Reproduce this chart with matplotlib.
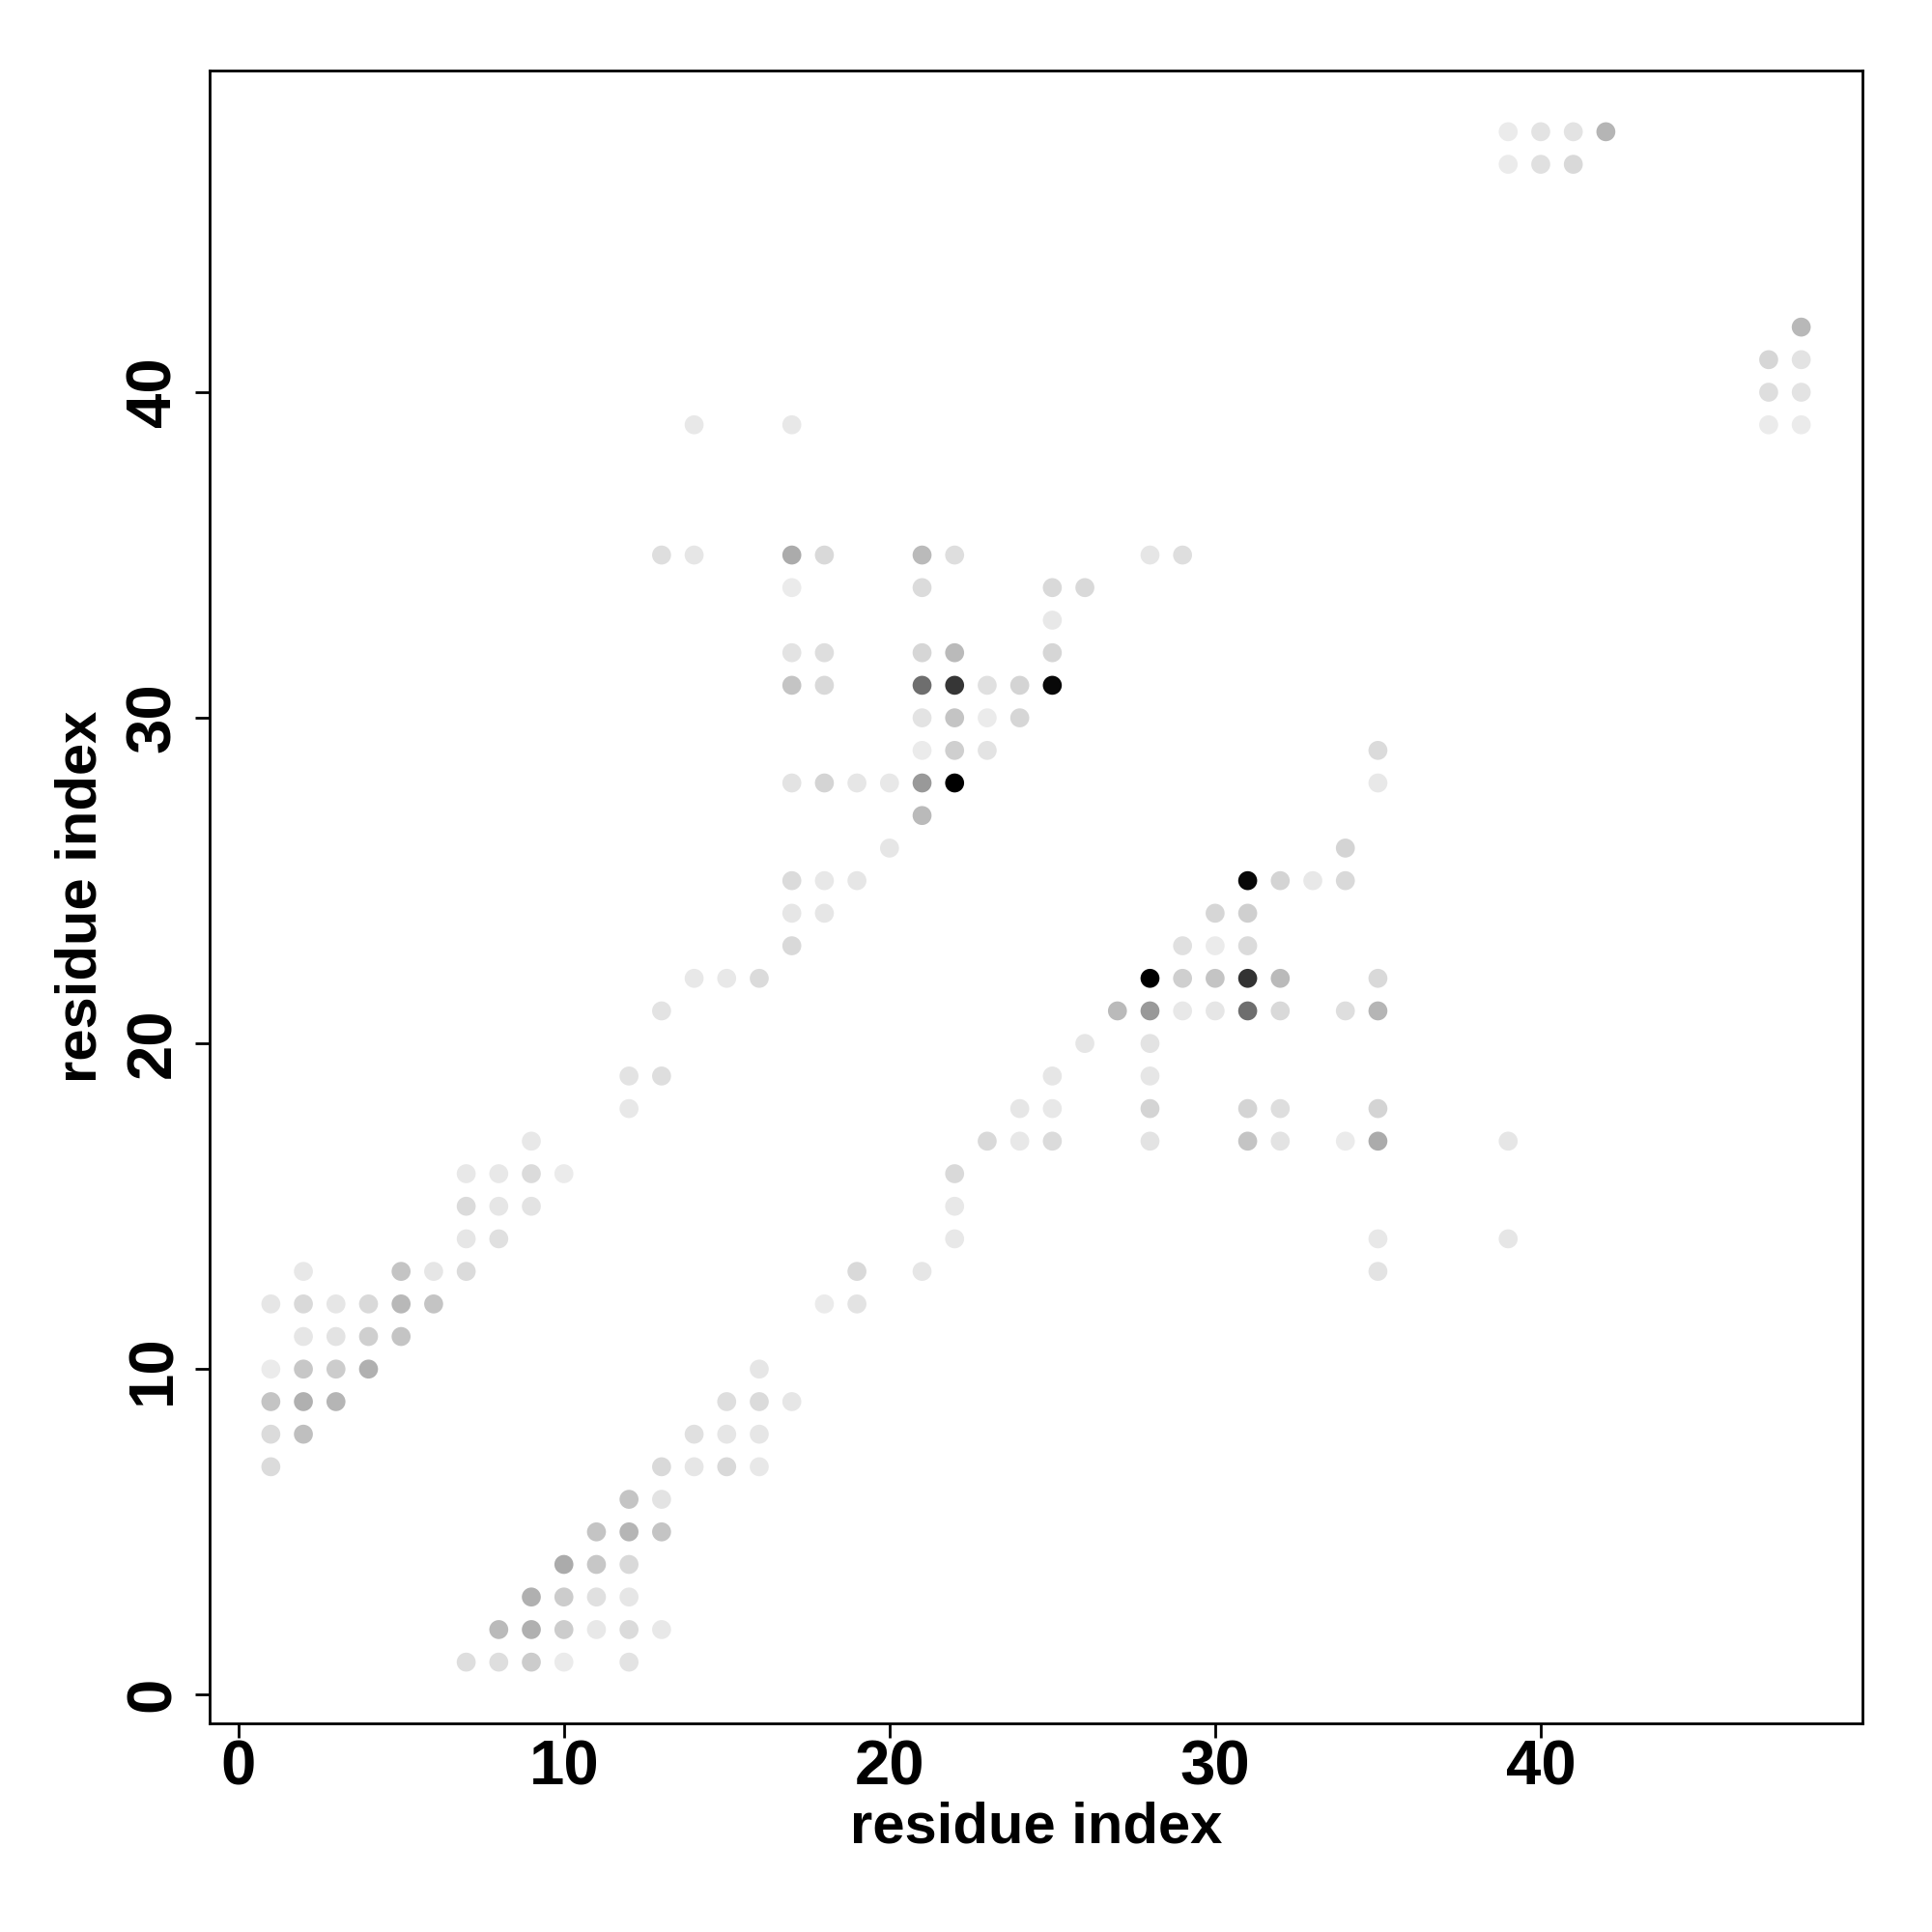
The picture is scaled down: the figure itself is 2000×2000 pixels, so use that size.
import matplotlib
matplotlib.use("Agg")
import matplotlib.pyplot as plt

# contact pairs (residue i, residue j) and contact frequency (0 = never, 1 = always)
res_i = [39, 40, 41, 42,
         39, 40, 41,
         48,
         47, 48,
         47, 48,
         47, 48, 14, 17,
         13, 14, 17, 18, 21, 22, 28, 29,
         17, 21, 25, 26,
         25,
         17, 18, 21, 22, 25,
         17, 18, 21, 22, 23, 24, 25,
         21, 22, 23, 24,
         21, 22, 23, 35,
         17, 18, 19, 20, 21, 22, 35,
         21,
         20, 34,
         17, 18, 19, 31, 32, 33, 34,
         17, 18, 30, 31,
         17, 29, 30, 31,
         14, 15, 16, 28, 29, 30, 31, 32, 35,
         13, 27, 28, 29, 30, 31, 32, 34, 35,
         26, 28,
         12, 13, 25, 28,
         12, 24, 25, 28, 31, 32, 35,
         9, 23, 24, 25, 28, 31, 32, 34, 35, 39,
         7, 8, 9, 10, 22,
         7, 8, 9, 22,
         7, 8, 22, 35, 39,
         2, 5, 6, 7, 19, 21, 35,
         1, 2, 3, 4, 5, 6, 18, 19,
         2, 3, 4, 5,
         1, 2, 3, 4, 16,
         1, 2, 3, 15, 16, 17,
         1, 2, 14, 15, 16,
         1, 13, 14, 15, 16,
         12, 13,
         11, 12, 13,
         10, 11, 12,
         9, 10, 11, 12,
         8, 9, 10, 11, 12, 13,
         7, 8, 9, 10, 12]

res_j = [48, 48, 48, 48,
         47, 47, 47,
         42,
         41, 41,
         40, 40,
         39, 39, 39, 39,
         35, 35, 35, 35, 35, 35, 35, 35,
         34, 34, 34, 34,
         33,
         32, 32, 32, 32, 32,
         31, 31, 31, 31, 31, 31, 31,
         30, 30, 30, 30,
         29, 29, 29, 29,
         28, 28, 28, 28, 28, 28, 28,
         27,
         26, 26,
         25, 25, 25, 25, 25, 25, 25,
         24, 24, 24, 24,
         23, 23, 23, 23,
         22, 22, 22, 22, 22, 22, 22, 22, 22,
         21, 21, 21, 21, 21, 21, 21, 21, 21,
         20, 20,
         19, 19, 19, 19,
         18, 18, 18, 18, 18, 18, 18,
         17, 17, 17, 17, 17, 17, 17, 17, 17, 17,
         16, 16, 16, 16, 16,
         15, 15, 15, 15,
         14, 14, 14, 14, 14,
         13, 13, 13, 13, 13, 13, 13,
         12, 12, 12, 12, 12, 12, 12, 12,
         11, 11, 11, 11,
         10, 10, 10, 10, 10,
         9, 9, 9, 9, 9, 9,
         8, 8, 8, 8, 8,
         7, 7, 7, 7, 7,
         6, 6,
         5, 5, 5,
         4, 4, 4,
         3, 3, 3, 3,
         2, 2, 2, 2, 2, 2,
         1, 1, 1, 1, 1]

freq = [.08, .11, .11, .29,
        .08, .12, .15,
        .28,
        .16, .11,
        .13, .11,
        .08, .08, .09, .09,
        .13, .10, .33, .15, .27, .13, .10, .13,
        .08, .14, .15, .15,
        .09,
        .11, .13, .16, .27, .16,
        .23, .15, .57, .79, .12, .17, .97,
        .11, .23, .08, .16,
        .08, .19, .11, .14,
        .11, .17, .10, .09, .40, 1.0, .09,
        .27,
        .10, .17,
        .14, .09, .10, .97, .17, .09, .15,
        .10, .10, .16, .19,
        .15, .12, .08, .14,
        .09, .09, .14, 1.0, .19, .23, .80, .27, .15,
        .11, .27, .40, .09, .10, .57, .15, .13, .29,
        .10, .11,
        .11, .13, .10, .10,
        .09, .10, .09, .17, .17, .13, .17,
        .09, .15, .09, .14, .11, .23, .11, .08, .33, .10,
        .09, .09, .14, .08, .15,
        .14, .10, .11, .09,
        .10, .12, .09, .09, .10,
        .09, .23, .10, .14, .15, .10, .11,
        .10, .15, .10, .15, .28, .23, .08, .11,
        .10, .11, .19, .23,
        .08, .22, .20, .31, .10,
        .23, .31, .29, .13, .14, .10,
        .14, .25, .12, .10, .10,
        .14, .15, .10, .15, .09,
        .23, .11,
        .23, .29, .23,
        .33, .22, .15,
        .31, .20, .12, .10,
        .27, .31, .20, .09, .14, .09,
        .13, .13, .20, .08, .11]

plt.rcParams['font.family'] = ['Liberation Sans', 'DejaVu Sans']
plt.rcParams['font.weight'] = 'bold'

fig = plt.figure(figsize=(10, 10), dpi=200)
ax = fig.add_axes([0.1085, 0.108, 0.8555, 0.8555])

colors = [str(1 - f) for f in freq]
ax.scatter(res_i, res_j, c=colors, s=50, linewidths=0)

lo = 1 - 0.04 * 47
hi = 48 + 0.04 * 47
ax.set_xlim(lo, hi)
ax.set_ylim(lo, hi)
ticks = [0, 10, 20, 30, 40]
ax.set_xticks(ticks)
ax.set_yticks(ticks)
ax.set_yticklabels([str(t) for t in ticks], rotation=90, va='center')

for sp in ax.spines.values():
    sp.set_linewidth(1.0)
ax.tick_params(length=5.5, width=1.0, labelsize=23.5)
ax.tick_params(axis='x', pad=0.5)
ax.tick_params(axis='y', pad=4.5)

ax.set_xlabel("residue index", fontsize=21.5, fontweight='bold', va='center')
ax.set_ylabel("residue index", fontsize=21.5, fontweight='bold', va='center')
ax.xaxis.set_label_coords(0.5, -0.063)
ax.yaxis.set_label_coords(-0.078, 0.5)

fig.savefig("out.png", dpi=200)
plt.close()
